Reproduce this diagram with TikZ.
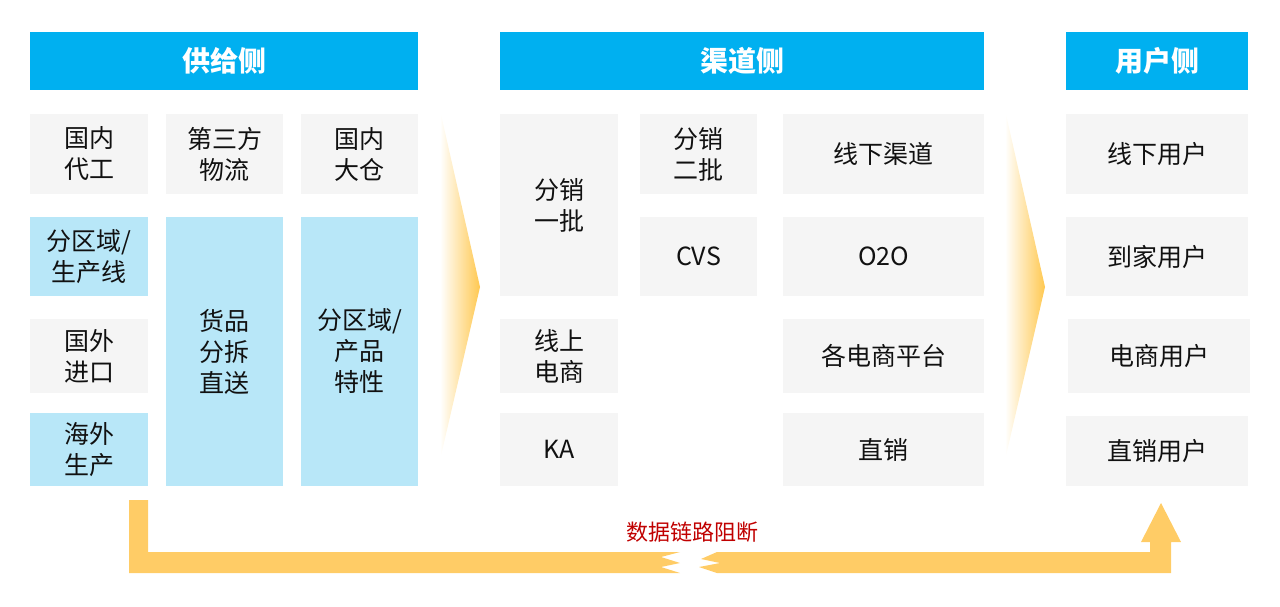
\documentclass[tikz,border=0pt]{standalone}
\usepackage{fontspec}
\setmainfont{Noto Sans CJK SC}
\definecolor{hdr}{HTML}{00B0F0}
\definecolor{gbox}{HTML}{F5F5F5}
\definecolor{lbox}{HTML}{B8E7F8}
\definecolor{arr}{HTML}{FFCC66}
\definecolor{chev}{HTML}{FFC850}
\definecolor{lbl}{HTML}{C00000}
\definecolor{txt}{HTML}{111111}
\tikzset{
  base/.style={inner sep=0pt, outer sep=0pt, align=center, text=txt,
    font=\fontsize{25}{31}\selectfont},
  hdrbox/.style={base, fill=hdr, text=white, font=\fontsize{28}{32}\selectfont\bfseries},
  graybox/.style={base, fill=gbox},
  bluebox/.style={base, fill=lbox},
}
% \bx{style}{name}{x1}{y1}{x2}{y2}{text}
\newcommand{\bx}[7]{%
  \pgfmathsetmacro{\bw}{#5-#3}\pgfmathsetmacro{\bh}{#6-#4}%
  \node[#1, minimum width=\bw pt, minimum height=\bh pt] (#2) at ({(#3+#5)/2},{(#4+#6)/2}) {#7};}
\begin{document}
\begin{tikzpicture}[x=1pt,y=-1pt]
\useasboundingbox (0,0) rectangle (1280,606);
% headers
\bx{hdrbox}{h1}{30}{32}{418}{90}{供给侧}
\bx{hdrbox}{h2}{500}{32}{984}{90}{渠道侧}
\bx{hdrbox}{h3}{1066}{32}{1248}{90}{用户侧}
% supply side
\bx{graybox}{s1}{30}{114}{148}{194}{国内\\代工}
\bx{graybox}{s2}{166}{114}{283}{194}{第三方\\物流}
\bx{graybox}{s3}{301}{114}{418}{194}{国内\\大仓}
\bx{bluebox}{s4}{30}{217}{148}{296}{分区域/\\生产线}
\bx{bluebox}{s5}{166}{217}{283}{486}{货品\\分拆\\直送}
\bx{bluebox}{s6}{301}{217}{418}{486}{分区域/\\产品\\特性}
\bx{graybox}{s7}{30}{319}{148}{393}{国外\\进口}
\bx{bluebox}{s8}{30}{413}{148}{486}{海外\\生产}
% channel side
\bx{graybox}{c1}{500}{114}{618}{296}{分销\\一批}
\bx{graybox}{c2}{640}{114}{757}{194}{分销\\二批}
\bx{graybox}{c3}{783}{114}{984}{194}{线下渠道}
\bx{graybox}{c4}{640}{217}{757}{296}{CVS}
\bx{graybox}{c5}{783}{217}{984}{296}{O2O}
\bx{graybox}{c6}{500}{319}{618}{393}{线上\\电商}
\bx{graybox}{c7}{783}{319}{984}{393}{各电商平台}
\bx{graybox}{c8}{500}{413}{618}{486}{KA}
\bx{graybox}{c9}{783}{413}{984}{486}{直销}
% user side
\bx{graybox}{u1}{1066}{114}{1248}{194}{线下用户}
\bx{graybox}{u2}{1066}{217}{1248}{296}{到家用户}
\bx{graybox}{u3}{1068}{319}{1250}{393}{电商用户}
\bx{graybox}{u4}{1066}{416}{1248}{486}{直销用户}
% chevrons
\shade[left color=white, right color=chev] (440,110) -- (480,287) -- (440,460) -- cycle;
\shade[left color=white, right color=chev] (1005,110) -- (1045,287) -- (1005,460) -- cycle;
% bottom broken arrow
\fill[arr] (129,500) -- (148,500) -- (148,552) -- (680,552) -- (661,557) -- (680,563)
  -- (661,567) -- (680,573) -- (129,573) -- cycle;
\fill[arr] (717,552) -- (1150,552) -- (1150,542) -- (1141,542) -- (1161,503) -- (1181,542)
  -- (1171,542) -- (1171,573) -- (717,573) -- (699,567) -- (720,563) -- (701,559) -- cycle;
\node[text=lbl, font=\fontsize{22}{26}\selectfont, inner sep=0pt] (lab) at (692,532) {数据链路阻断};
\end{tikzpicture}
\end{document}
